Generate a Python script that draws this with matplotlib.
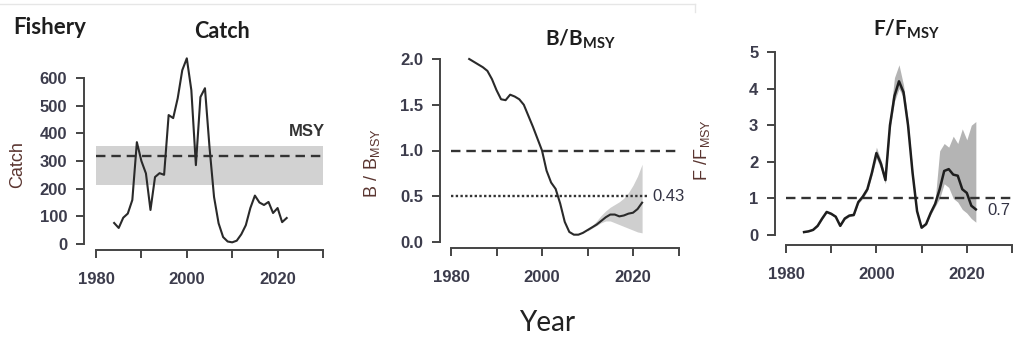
import matplotlib
matplotlib.use("Agg")
import matplotlib.pyplot as plt
from matplotlib.lines import Line2D

plt.rcParams['font.family'] = ['Liberation Sans', 'DejaVu Sans']
plt.rcParams['mathtext.fontset'] = 'custom'
plt.rcParams['mathtext.rm'] = 'Liberation Sans'
plt.rcParams['mathtext.bf'] = 'Lato:bold'

# ---------------- data ----------------
years = list(range(1984, 2023))
catch = [76, 58, 95, 110, 159, 368, 300, 255, 123, 242, 256, 250, 466, 455, 527,
         628, 671, 556, 285, 531, 563, 350, 170, 75, 25, 9, 6, 12, 35, 68,
         130, 175, 150, 141, 152, 112, 130, 79, 94]
msy = 318
msy_lo, msy_hi = 213, 354
band_years = [1980, 2030]

bb = [2.0, 1.97, 1.94, 1.91, 1.87, 1.78, 1.66, 1.56, 1.55, 1.61, 1.59, 1.56, 1.50,
      1.38, 1.26, 1.13, 1.0, 0.78, 0.65, 0.58, 0.42, 0.22, 0.11, 0.08, 0.08, 0.10,
      0.13, 0.16, 0.19, 0.23, 0.27, 0.30, 0.30, 0.28, 0.29, 0.31, 0.32, 0.36, 0.43]
bb_years_band = list(range(2010, 2023))
bb_lo = [0.12, 0.15, 0.18, 0.21, 0.23, 0.23, 0.21, 0.19, 0.17, 0.15, 0.13, 0.11, 0.10]
bb_hi = [0.14, 0.18, 0.23, 0.29, 0.34, 0.38, 0.41, 0.44, 0.48, 0.54, 0.62, 0.72, 0.85]

ff = [0.08, 0.10, 0.14, 0.25, 0.45, 0.63, 0.58, 0.50, 0.25, 0.45, 0.53, 0.55, 0.90,
      1.05, 1.25, 1.70, 2.24, 1.95, 1.50, 3.0, 3.8, 4.2, 3.9, 3.0, 1.7, 0.65, 0.2,
      0.30, 0.60, 0.85, 1.25, 1.75, 1.80, 1.65, 1.62, 1.25, 1.15, 0.80, 0.70]
ff_lo = [0.07, 0.09, 0.13, 0.23, 0.42, 0.60, 0.55, 0.47, 0.23, 0.42, 0.50, 0.52, 0.86,
         1.0, 1.2, 1.62, 2.1, 1.8, 1.4, 2.85, 3.65, 4.0, 3.75, 2.85, 1.6, 0.6, 0.18,
         0.27, 0.55, 0.78, 1.0, 1.4, 1.3, 1.0, 0.9, 0.7, 0.6, 0.45, 0.35]
ff_hi = [0.09, 0.11, 0.15, 0.27, 0.48, 0.66, 0.61, 0.53, 0.27, 0.48, 0.56, 0.58, 0.94,
         1.1, 1.3, 1.8, 2.4, 2.05, 1.6, 3.2, 4.3, 4.65, 4.1, 3.15, 1.8, 0.7, 0.22,
         0.33, 0.65, 0.95, 2.3, 2.5, 2.4, 2.7, 2.5, 2.9, 2.6, 3.0, 3.1]

xticks = [1980, 1990, 2000, 2010, 2020, 2030]
xticklabels = ['1980', '', '2000', '', '2020', '']
catch_ticks = [0, 100, 200, 300, 400, 500, 600]
bb_ticks = [0.0, 0.5, 1.0, 1.5, 2.0]
ff_ticks = [0, 1, 2, 3, 4, 5]

# ---------------- figure ----------------
W, H = 1013, 347
fig = plt.figure(figsize=(W / 100, H / 100), dpi=100)

TICKC = '#3c3c4c'
LABC = '#5a3530'
AXC = '#444444'


def px_axes(l, t, r, b):
    return fig.add_axes([l / W, 1 - b / H, (r - l) / W, (b - t) / H])


def style(ax, yticks, ybounds, yfmt):
    for s in ['top', 'right']:
        ax.spines[s].set_visible(False)
    for s in ['left', 'bottom']:
        ax.spines[s].set_color(AXC)
        ax.spines[s].set_linewidth(1.4)
    ax.spines['left'].set_bounds(*ybounds)
    ax.spines['bottom'].set_bounds(1980, 2030)
    ax.set_xticks(xticks)
    ax.set_yticks(yticks)
    ax.set_xticklabels(xticklabels, fontsize=12, fontweight='bold', color=TICKC)
    ax.set_yticklabels([yfmt(v) for v in yticks], fontsize=12, fontweight='bold',
                       color=TICKC)
    ax.tick_params(axis='both', colors=AXC, width=1.4, length=6, labelcolor=TICKC)
    ax.tick_params(axis='x', pad=10)
    ax.tick_params(axis='y', pad=6)
    ax.patch.set_alpha(0)


def fig_text(x, y, s, **kw):
    fig.text(x / W, 1 - y / H, s, **kw)


# faint frame at top
fig.add_artist(Line2D([0, 695 / W], [1 - 4 / H, 1 - 4 / H], color='#e6e6e6', lw=1))
fig.add_artist(Line2D([695 / W, 695 / W], [1 - 4 / H, 1 - 12 / H], color='#e6e6e6', lw=1))


def yr(px, x0, s):
    return 1980 + (px - x0) / s


# Panel 1: Catch
ax1 = px_axes(84, 50, 332, 250)
ax1.set_xlim(yr(84, 96, 4.54), yr(332, 96, 4.54))
ax1.set_ylim((244 - 250) / 0.2767, (244 - 50) / 0.2767)
ax1.fill_between(band_years, [msy_lo, msy_lo], [msy_hi, msy_hi], color='#d2d2d2', lw=0)
ax1.plot(band_years, [msy, msy], color='#333333', lw=1.7, ls=(0, (4, 2.5)))
ax1.plot(years, catch, color='#2a2a2a', lw=1.5)
ax1.text(2026.5, 405, 'MSY', fontsize=12, fontweight='bold', color='#333333',
         ha='center', va='center')
style(ax1, catch_ticks, (0, 600), lambda v: f'{v:d}')

# Panel 2: B/BMSY
ax2 = px_axes(440, 50, 680, 248)
ax2.set_xlim(yr(440, 451, 4.55), yr(680, 451, 4.55))
ax2.set_ylim((242 - 248) / 91.5, (242 - 50) / 91.5)
ax2.fill_between(bb_years_band, bb_lo, bb_hi, color='#cfcfcf', lw=0)
ax2.plot([1980, 2030], [1.0, 1.0], color='#333333', lw=1.7, ls=(0, (4, 2.5)))
ax2.plot([1980, 2023.6], [0.5, 0.5], color='#333333', lw=1.7, ls=(0, (1, 1)))
ax2.plot(years, bb, color='#2a2a2a', lw=1.5)
ax2.text(2024.3, 0.5, '0.43', fontsize=12, color='#333344', ha='left', va='center',
         clip_on=False)
style(ax2, bb_ticks, (0, 2.0), lambda v: f'{v:.1f}')

# Panel 3: F/FMSY
ax3 = px_axes(775, 45, 1013, 245)
ax3.set_xlim(yr(775, 786, 4.52), yr(1013, 786, 4.52))
ax3.set_ylim((235 - 245) / 36.6, (235 - 45) / 36.6)
ax3.fill_between(years, ff_lo, ff_hi, color='#b4b4b4', lw=0)
ax3.plot([1980, 2030], [1.0, 1.0], color='#333333', lw=1.7, ls=(0, (4, 2.5)))
ax3.plot(years, ff, color='#1e1e1e', lw=1.8)
ax3.text(2024.6, 0.68, '0.7', fontsize=12, color='#333344', ha='left', va='center',
         clip_on=False)
style(ax3, ff_ticks, (0, 5), lambda v: f'{v:d}')

# titles and labels
fig_text(13, 28, 'Fishery', fontsize=16, fontweight='bold', family='Lato',
         color='#1e1e1e', ha='left', va='center')
fig_text(222, 31, 'Catch', fontsize=15.5, fontweight='bold', family='Lato',
         color='#1e1e1e', ha='center', va='center')
fig_text(580, 39, r'$\mathbf{B/B_{MSY}}$', fontsize=15, color='#1e1e1e',
         ha='center', va='center')
fig_text(906, 29, r'$\mathbf{F/F_{MSY}}$', fontsize=15, color='#1e1e1e',
         ha='center', va='center')
fig_text(18, 165, 'Catch', fontsize=13, color=LABC, rotation=90,
         ha='center', va='center')
fig_text(372, 163, r'$\mathrm{B\ /\ B_{MSY}}$', fontsize=13, color=LABC, rotation=90,
         ha='center', va='center')
fig_text(702, 150, r'$\mathrm{F\ /F_{MSY}}$', fontsize=13, color=LABC, rotation=90,
         ha='center', va='center')
fig_text(547, 323, 'Year', fontsize=20, family='Lato', color='#222222',
         ha='center', va='center')

fig.savefig('out.png', dpi=100, facecolor='white')
